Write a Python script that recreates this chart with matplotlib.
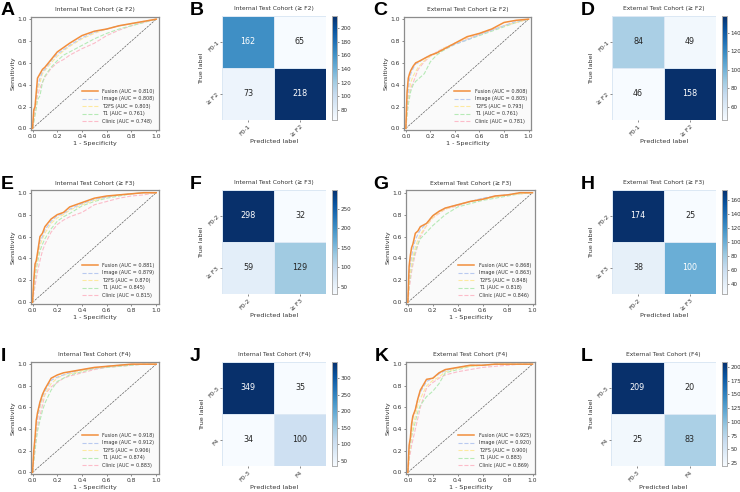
import matplotlib
matplotlib.use("Agg")
import matplotlib.pyplot as plt
import numpy as np
import seaborn as sns

W, H = 740, 492
plt.rcParams['font.family'] = ['DejaVu Sans']

fpr = [0,.01,.02,.03,.04,.06,.08,.1,.15,.2,.25,.3,.4,.5,.6,.7,.8,.9,1]
models = ['Fusion', 'Image', 'T2FS', 'T1', 'Clinic']
colors = ['#f28e3c', '#b9caf0', '#fde9a0', '#b6eab6', '#fcbcc9']

roc_a = [[0,.17,.2,.33,.46,.5,.54,.56,.63,.70,.74,.78,.85,.89,.91,.94,.96,.98,1],
         [0,.12,.2,.28,.38,.46,.52,.54,.62,.68,.72,.76,.83,.88,.91,.94,.96,.98,1],
         [0,.1,.18,.26,.34,.42,.5,.53,.6,.66,.71,.75,.82,.87,.91,.94,.96,.98,1],
         [0,.05,.12,.18,.26,.3,.42,.48,.56,.62,.67,.70,.76,.82,.87,.91,.94,.97,1],
         [0,.08,.14,.22,.3,.37,.42,.47,.55,.6,.63,.67,.73,.78,.85,.9,.94,.97,1]]
roc_c = [[0,.33,.46,.5,.53,.57,.6,.61,.64,.67,.69,.72,.78,.84,.87,.91,.97,.99,1],
         [0,.2,.35,.45,.5,.55,.59,.6,.64,.67,.69,.72,.77,.81,.86,.90,.94,.98,1],
         [0,.18,.28,.36,.42,.48,.52,.56,.62,.66,.69,.73,.78,.83,.87,.91,.94,.97,1],
         [0,.12,.22,.28,.34,.4,.43,.45,.5,.61,.67,.71,.77,.81,.85,.89,.93,.97,1],
         [0,.15,.25,.32,.37,.42,.48,.54,.61,.66,.7,.73,.78,.82,.86,.9,.94,.97,1]]
roc_e = [[0,.2,.35,.38,.45,.6,.63,.69,.76,.8,.82,.87,.91,.95,.97,.98,.99,1,1],
         [0,.17,.3,.37,.43,.56,.6,.66,.74,.79,.81,.85,.9,.94,.96,.98,.99,1,1],
         [0,.15,.27,.33,.4,.52,.58,.63,.72,.77,.8,.84,.89,.93,.96,.98,.99,1,1],
         [0,.12,.22,.3,.36,.47,.53,.58,.67,.74,.78,.81,.88,.92,.95,.97,.99,1,1],
         [0,.08,.15,.22,.28,.38,.47,.53,.64,.71,.75,.78,.82,.89,.92,.95,.97,.98,1]]
roc_g = [[0,.33,.43,.5,.53,.63,.65,.69,.72,.79,.83,.86,.89,.92,.94,.97,.98,1,1],
         [0,.25,.35,.42,.48,.57,.62,.66,.72,.79,.83,.86,.89,.92,.95,.97,.98,1,1],
         [0,.2,.28,.35,.42,.5,.57,.62,.7,.77,.82,.85,.89,.92,.94,.96,.98,.99,1],
         [0,.15,.25,.33,.38,.47,.53,.58,.64,.7,.75,.8,.87,.9,.93,.95,.97,.99,1],
         [0,.12,.2,.28,.34,.44,.52,.6,.7,.77,.81,.85,.88,.92,.94,.97,.98,.99,1]]
roc_i = [[0,.2,.32,.48,.55,.65,.72,.77,.87,.90,.92,.93,.95,.97,.98,.99,1,1,1],
         [0,.17,.28,.42,.5,.62,.7,.75,.85,.88,.9,.92,.95,.96,.98,.99,1,1,1],
         [0,.18,.3,.42,.5,.6,.67,.72,.82,.87,.9,.91,.94,.96,.98,.99,1,1,1],
         [0,.1,.2,.3,.38,.48,.57,.64,.76,.84,.87,.9,.93,.96,.97,.98,.99,1,1],
         [0,.12,.22,.32,.42,.52,.62,.72,.79,.83,.87,.89,.92,.95,.97,.98,.99,1,1]]
roc_k = [[0,.25,.32,.45,.52,.58,.68,.76,.86,.87,.92,.95,.97,.99,.99,1,1,1,1],
         [0,.2,.3,.42,.5,.58,.68,.74,.84,.87,.91,.94,.97,.99,.99,1,1,1,1],
         [0,.15,.25,.35,.42,.52,.62,.68,.8,.85,.88,.93,.96,.98,.99,1,1,1,1],
         [0,.15,.25,.33,.38,.47,.56,.62,.7,.75,.82,.92,.95,.98,.99,1,1,1,1],
         [0,.12,.18,.25,.3,.4,.5,.6,.78,.83,.87,.9,.93,.95,.97,.98,.99,1,1]]

auc_a = ['0.810', '0.808', '0.803', '0.761', '0.748']
auc_c = ['0.808', '0.805', '0.793', '0.761', '0.781']
auc_e = ['0.881', '0.879', '0.870', '0.845', '0.815']
auc_g = ['0.868', '0.863', '0.848', '0.818', '0.846']
auc_i = ['0.918', '0.912', '0.906', '0.874', '0.883']
auc_k = ['0.925', '0.920', '0.900', '0.883', '0.869']

cm_b = [[162, 65], [73, 218]]
cm_d = [[84, 49], [46, 158]]
cm_f = [[298, 32], [59, 129]]
cm_h = [[174, 25], [38, 100]]
cm_j = [[349, 35], [34, 100]]
cm_l = [[209, 20], [25, 83]]

labels_f2 = ['F0-1', '≥ F2']
labels_f3 = ['F0-2', '≥ F3']
labels_f4 = ['F0-3', 'F4']

fig = plt.figure(figsize=(W/100, H/100), dpi=100)

def axes_px(l, t, r, b):
    return fig.add_axes([l/W, 1-b/H, (r-l)/W, (b-t)/H])

def roc(box, curves, aucs, title, letter, lx, ly):
    ax = axes_px(*box)
    ax.set_facecolor('#fafafa')
    for i in range(4, 0, -1):
        ax.plot(fpr, curves[i], color=colors[i], lw=0.8, ls='--', zorder=2+(4-i))
    ax.plot(fpr, curves[0], color=colors[0], lw=1.1, zorder=7)
    ax.plot([0, 1], [0, 1], color='#555555', lw=0.45, ls='--', zorder=1)
    ax.set_xlim(-0.015, 1.02)
    ax.set_ylim(-0.015, 1.02)
    ax.set_xticks(np.arange(0, 1.01, 0.2))
    ax.set_yticks(np.arange(0, 1.01, 0.2))
    ax.tick_params(labelsize=4.3, length=1.5, width=0.4, pad=1.2, colors='#333333')
    ax.set_xlabel('1 - Specificity', fontsize=4.6, labelpad=1.5, color='#333333')
    ax.set_ylabel('Sensitivity', fontsize=4.6, labelpad=1.5, color='#333333')
    ax.set_title(title, fontsize=4.3, pad=4, color='#333333')
    for s in ax.spines.values():
        s.set_color('#8c8c8c')
        s.set_linewidth(0.9)
    handles = [plt.Line2D([], [], color=colors[0], lw=1.1)] + \
              [plt.Line2D([], [], color=colors[i], lw=0.8, ls='--') for i in range(1, 5)]
    names = [f'{m} (AUC = {a})' for m, a in zip(models, aucs)]
    ax.legend(handles, names, loc='lower right', frameon=False, fontsize=3.5,
              labelspacing=0.5, handlelength=3.3, handletextpad=0.9,
              borderaxespad=0.2, bbox_to_anchor=(0.99, 0.03),
              labelcolor='#333333')
    fig.text(lx/W, 1-ly/H, letter, fontsize=14, fontweight='bold',
             family='Liberation Sans', va='baseline', ha='left', color='black')

def conf(box, cbox, cm, labels, title, letter, lx, ly):
    ax = axes_px(*box)
    cax = axes_px(*cbox)
    sns.heatmap(np.array(cm), ax=ax, cbar_ax=cax, cmap='Blues', annot=True, fmt='d',
                annot_kws={'fontsize': 5.8}, linewidths=0.6, linecolor='#dce8f4',
                xticklabels=labels, yticklabels=labels, cbar=True)
    ax.set_title(title, fontsize=4.3, pad=4, color='#333333')
    ax.set_xlabel('Predicted label', fontsize=4.6, labelpad=1.5, color='#333333')
    ax.set_ylabel('True label', fontsize=4.6, labelpad=1.5, color='#333333')
    ax.tick_params(length=1.5, width=0.4, labelsize=4.3, pad=1.2, colors='#333333')
    plt.setp(ax.get_xticklabels(), rotation=45, ha='right', rotation_mode='anchor')
    plt.setp(ax.get_yticklabels(), rotation=45, ha='right', va='center', rotation_mode='anchor')
    cax.tick_params(labelsize=4.1, length=1.5, width=0.4, pad=1.2, colors='#333333')
    for s in cax.spines.values():
        s.set_visible(True)
        s.set_color('#b0b0b0')
        s.set_linewidth(0.6)
    fig.text(lx/W, 1-ly/H, letter, fontsize=14, fontweight='bold',
             family='Liberation Sans', va='baseline', ha='left', color='black')

rows = [(17, 130, 16, 120, 15), (190.5, 304, 190, 294, 189), (362, 474, 362, 466, 361)]

titles = ['Internal Test Cohort (≥ F2)', 'External Test Cohort (≥ F2)',
          'Internal Test Cohort (≥ F3)', 'External Test Cohort (≥ F3)',
          'Internal Test Cohort (F4)', 'External Test Cohort (F4)']

t, b, ht, hb, ly = rows[0]
roc((30.7, t, 158.7, b), roc_a, auc_a, titles[0], 'A', 1, ly)
conf((222, ht, 326, hb), (332, ht, 337, hb), cm_b, labels_f2, titles[0], 'B', 190, ly)
roc((404, t, 531, b), roc_c, auc_c, titles[1], 'C', 373, ly)
conf((612, ht, 716, hb), (722, ht, 727, hb), cm_d, labels_f2, titles[1], 'D', 581, ly)

t, b, ht, hb, ly = rows[1]
roc((30.7, t, 158.7, b), roc_e, auc_e, titles[2], 'E', 1, ly)
conf((222, ht, 326, hb), (332, ht, 337, hb), cm_f, labels_f3, titles[2], 'F', 190, ly)
roc((406, t, 535, b), roc_g, auc_g, titles[3], 'G', 373, ly)
conf((612, ht, 716, hb), (722, ht, 727, hb), cm_h, labels_f3, titles[3], 'H', 581, ly)

t, b, ht, hb, ly = rows[2]
roc((30.7, t, 158.7, b), roc_i, auc_i, titles[4], 'I', 1, ly)
conf((222, ht, 326, hb), (332, ht, 337, hb), cm_j, labels_f4, titles[4], 'J', 190, ly)
roc((406, t, 535, b), roc_k, auc_k, titles[5], 'K', 375, ly)
conf((611, ht, 716, hb), (722, ht, 727, hb), cm_l, labels_f4, titles[5], 'L', 581, ly)

fig.savefig('out.png', dpi=100, facecolor='white')
